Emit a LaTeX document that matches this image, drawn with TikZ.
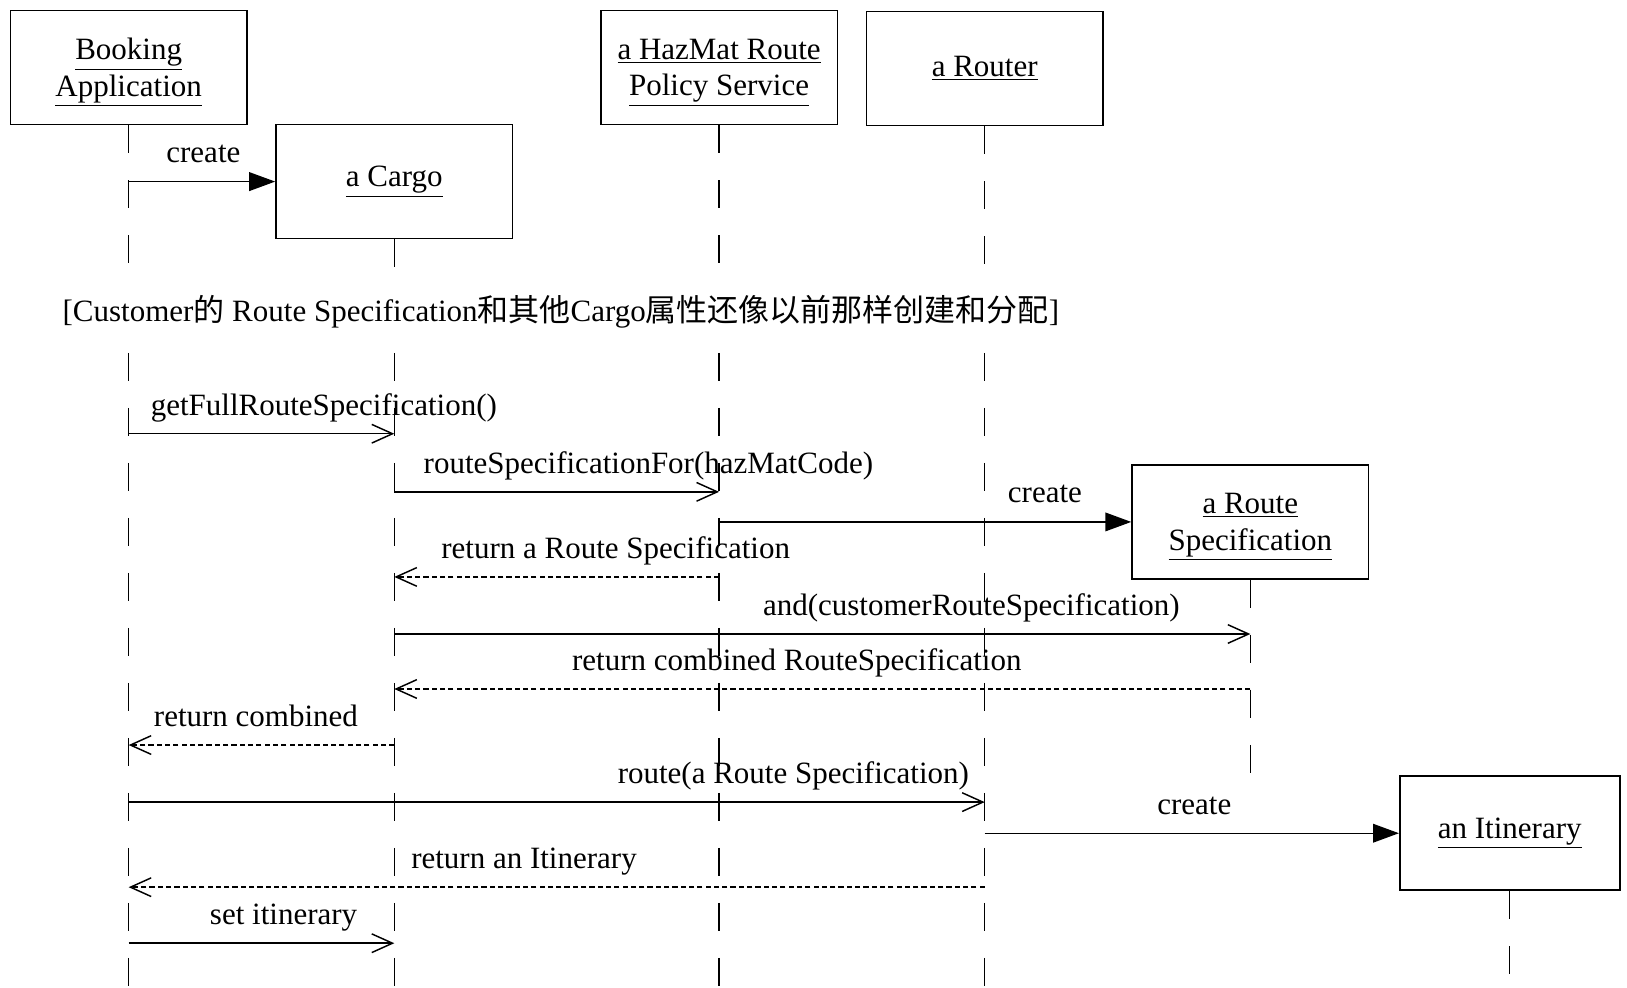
\documentclass[tikz,border=0pt]{standalone}
\usepackage{fontspec}
\setmainfont{Liberation Serif}
\newfontfamily\cjk{Noto Sans CJK SC}
\usetikzlibrary{arrows.meta,positioning}

\begin{document}
\begin{tikzpicture}[x=0.2mm, y=-0.2mm,
  obj/.style={rectangle, draw, line width=0.9pt, minimum width=#1, minimum height=22mm, align=center, font=\fontsize{17}{20}\selectfont, inner sep=0pt},
  obj/.default=45.6mm,
  lbl/.style={font=\fontsize{17}{20}\selectfont, inner sep=0pt, anchor=base west},
  life/.style={line width=0.7pt, dash pattern=on 5.4mm off 5.2mm},
  newmsg/.style={-{Triangle[length=5mm, width=3.6mm]}, line width=0.8pt},
  callmsg/.style={-{Straight Barb[length=4mm, width=3.6mm]}, line width=0.8pt},
  retmsg/.style={callmsg, dash pattern=on 1mm off 0.6mm}
]
  \useasboundingbox (0,0) rectangle (1568,952);

  \node[obj, text depth=0pt] (ba) at (124,65) {\underline{Booking}\\\underline{Application}};
  \node[obj] (cargo) at (380,175) {\underline{a Cargo}};
  \node[obj, text depth=0pt] (hazmat) at (693,65) {\underline{a HazMat Route}\\\underline{Policy Service}};
  \node[obj] (router) at (949,66) {\underline{a Router}};
  \node[obj, text depth=0pt] (rspec) at (1205,503) {\underline{a Route}\\\underline{Specification}};
  \node[obj=42.4mm] (itin) at (1455,803) {\underline{an Itinerary}};

  \node[lbl] (guard) at (60,310) {[Customer{\cjk 的} Route Specification{\cjk 和其他}Cargo{\cjk 属性还像以前那样创建和分配}]};

  \draw[life] (ba.south) -- (ba |- 0,258);
  \draw[life] (cargo.south) -- (cargo |- 0,258);
  \draw[life] (hazmat.south) -- (hazmat |- 0,258);
  \draw[life] (router.south) -- (router |- 0,258);
  \draw[life] (ba |- 0,340) -- (ba |- 0,952);
  \draw[life] (cargo |- 0,340) -- (cargo |- 0,952);
  \draw[life] (hazmat |- 0,340) -- (hazmat |- 0,952);
  \draw[life] (router |- 0,340) -- (router |- 0,952);
  \draw[life] (rspec.south) -- (rspec |- 0,750);
  \draw[life] (itin.south) -- (itin |- 0,952);

  \draw[newmsg] (ba |- 0,175) -- (cargo.west);
  \node[lbl] (m1) at (160,157) {create};
  \draw[callmsg] (ba |- 0,418) -- (cargo |- 0,418);
  \node[lbl] (m2) at (145,400) {getFullRouteSpecification()};
  \draw[callmsg] (cargo |- 0,474) -- (hazmat |- 0,474);
  \node[lbl] (m3) at (408,456) {routeSpecificationFor(hazMatCode)};
  \draw[newmsg] (hazmat |- 0,503) -- (rspec.west);
  \node[lbl] (m4) at (971,484) {create};
  \draw[retmsg] (hazmat |- 0,556) -- (cargo |- 0,556);
  \node[lbl] (m5) at (425,538) {return a Route Specification};
  \draw[callmsg] (cargo |- 0,611) -- (rspec |- 0,611);
  \node[lbl] (m6) at (735,593) {and(customerRouteSpecification)};
  \draw[retmsg] (rspec |- 0,664) -- (cargo |- 0,664);
  \node[lbl] (m7) at (551,646) {return combined RouteSpecification};
  \draw[retmsg] (cargo |- 0,718) -- (ba |- 0,718);
  \node[lbl] (m8) at (148,700) {return combined};
  \draw[callmsg] (ba |- 0,773) -- (router |- 0,773);
  \node[lbl] (m9) at (595,755) {route(a Route Specification)};
  \draw[newmsg] (router |- 0,803) -- (itin.west);
  \node[lbl] (m10) at (1115,785) {create};
  \draw[retmsg] (router |- 0,855) -- (ba |- 0,855);
  \node[lbl] (m11) at (396,837) {return an Itinerary};
  \draw[callmsg] (ba |- 0,909) -- (cargo |- 0,909);
  \node[lbl] (m12) at (202,891) {set itinerary};
\end{tikzpicture}
\end{document}
